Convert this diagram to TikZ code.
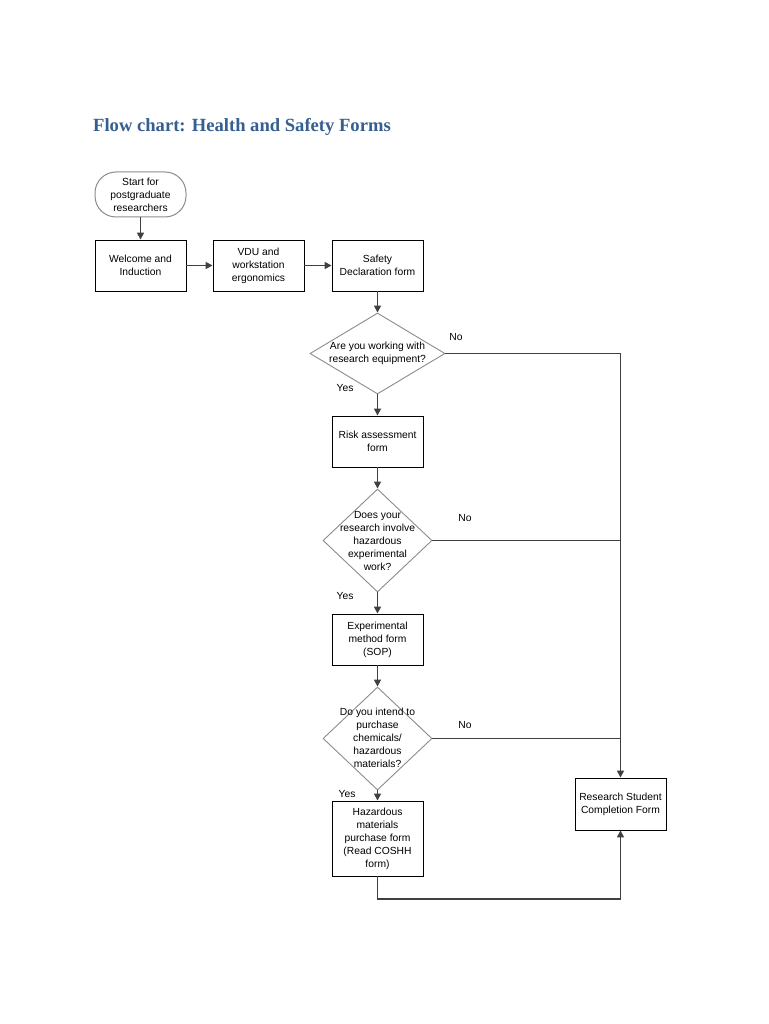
\documentclass[tikz,border=0pt]{standalone}
\usepackage{fontspec}
\setmainfont{Liberation Sans}
\newfontfamily\titlefont{Liberation Serif}
\usetikzlibrary{shapes.geometric,arrows.meta}
\definecolor{titleblue}{RGB}{54,95,145}
\definecolor{linegray}{RGB}{64,64,64}
\definecolor{diagray}{RGB}{140,140,140}
\begin{document}
\begin{tikzpicture}[x=1pt,y=-1pt,
  every node/.style={font=\fontsize{10.3}{13}\selectfont, align=center, inner sep=0pt},
  box/.style={draw=black, line width=0.9pt, minimum width=91pt, minimum height=51pt},
  terminal/.style={draw=diagray, line width=1pt, rounded corners=21pt, minimum width=91pt, minimum height=45pt},
  dia/.style={diamond, draw=diagray, line width=0.9pt},
  conn/.style={draw=linegray, line width=1.6pt},
  arr/.style={conn, -{Triangle[length=7pt,width=7pt]}},
  lbl/.style={font=\fontsize{10.3}{12}\selectfont}]
\fill[white] (0,0) rectangle (768,1024);
\useasboundingbox (0,0) rectangle (768,1024);

\node[anchor=west, text=titleblue, font=\titlefont\bfseries\fontsize{18.6}{21}\selectfont] (title) at (93,127) {Flow chart: Health and Safety Forms};

\node[terminal] (start) at (140.5,194.5) {Start for\\postgraduate\\researchers};
\node[box] (welcome) at (140.5,265.5) {Welcome and\\Induction};
\node[box] (vdu) at (258.5,265.5) {VDU and\\workstation\\ergonomics};
\node[box] (safety) at (377.5,265.5) {Safety\\Declaration form};

\node[dia, minimum width=135pt, minimum height=81pt] (d1) at (377.5,353.5) {};
\node (d1t) at (377.5,353.5) {Are you working with\\research equipment?};

\node[box] (risk) at (377.5,441.5) {Risk assessment\\form};

\node[dia, minimum width=109pt, minimum height=103pt] (d2) at (377.5,540.5) {};
\node (d2t) at (377.5,541) {Does your\\research involve\\hazardous\\experimental\\work?};

\node[box] (exp) at (377.5,639.5) {Experimental\\method form\\(SOP)};

\node[dia, minimum width=109pt, minimum height=103pt] (d3) at (377.5,738.5) {};
\node (d3t) at (377.5,738) {Do you intend to\\purchase\\chemicals/\\hazardous\\materials?};

\node[box, minimum height=75pt] (haz) at (377.5,838.5) {Hazardous\\materials\\purchase form\\(Read COSHH\\form)};

\node[box, minimum height=52pt] (rsc) at (620.5,804) {Research Student\\Completion Form};

\node[lbl] (no1) at (456,337) {No};
\node[lbl] (yes1) at (345,388) {Yes};
\node[lbl] (no2) at (465,518) {No};
\node[lbl] (yes2) at (345,596) {Yes};
\node[lbl] (no3) at (465,725) {No};
\node[lbl] (yes3) at (347,794) {Yes};

\coordinate (bot) at (0,899);

\draw[arr] (start.south) -- (welcome.north);
\draw[arr] (welcome.east) -- (vdu.west);
\draw[arr] (vdu.east) -- (safety.west);
\draw[arr] (safety.south) -- (d1.north);
\draw[arr] (d1.south) -- (risk.north);
\draw[arr] (risk.south) -- (d2.north);
\draw[arr] (d2.south) -- (exp.north);
\draw[arr] (exp.south) -- (d3.north);
\draw[arr] (d3.south) -- (haz.north);
\draw[arr] (d1.east) -| (rsc.north);
\draw[conn] (d2.east) -- (d2.east -| rsc.north);
\draw[conn] (d3.east) -- (d3.east -| rsc.north);
\draw[arr] (haz.south) -- (haz.south |- bot) -| (rsc.south);
\end{tikzpicture}
\end{document}
